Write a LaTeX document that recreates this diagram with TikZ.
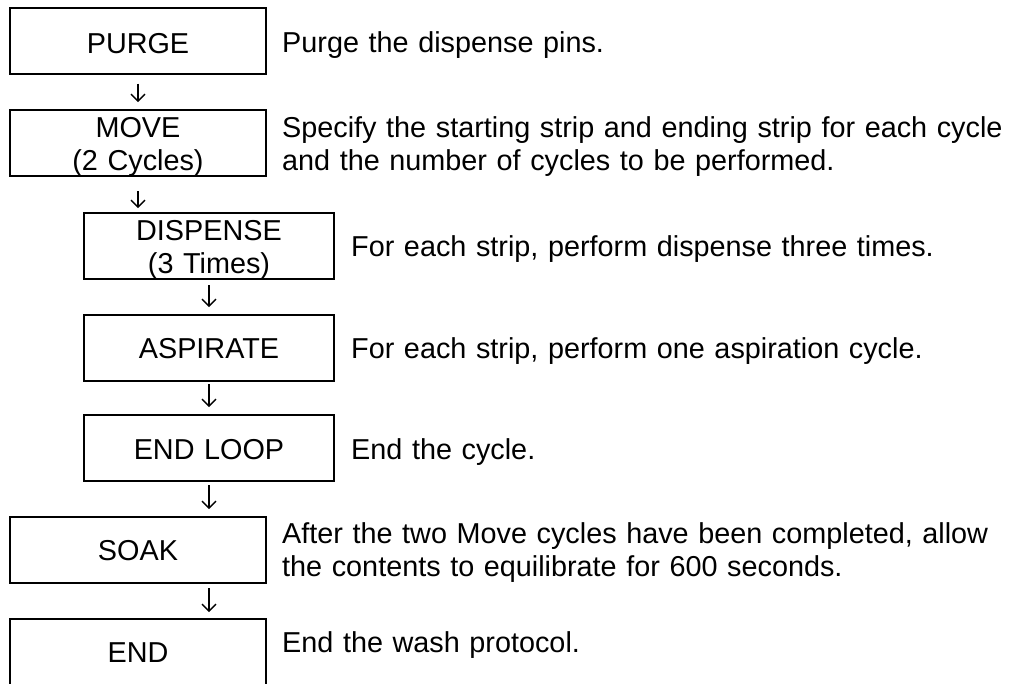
\documentclass[tikz,border=0pt]{standalone}
\usepackage{fontspec}
\setmainfont{Liberation Sans}
\usetikzlibrary{arrows.meta}
\tikzset{
  box/.style={draw=black, line width=2pt, rectangle, inner sep=0pt, minimum height=66pt},
  lbox/.style={box, minimum width=256pt},
  rbox/.style={box, minimum width=250pt},
  boxtxt/.style={anchor=base, inner sep=0pt, text width=250pt, align=center,
                 font=\fontsize{28.8}{33}\selectfont},
  desc/.style={anchor=base west, inner sep=0pt, text width=900pt, align=left,
               font=\fontsize{28.8}{33}\selectfont},
  flow/.style={line width=1.3pt, -{Straight Barb[length=7pt,width=14pt,line width=1.3pt]}}
}
\begin{document}
\begin{tikzpicture}[x=1pt,y=-1pt]
\useasboundingbox (0,0) rectangle (1011,683);
\fill[white] (0,0) rectangle (1011,683);
\clip (0,0) rectangle (1011,683);

% boxes
\node[lbox] (purge) at (138,40.5) {};
\node[lbox] (move)  at (138,143) {};
\node[rbox] (disp)  at (209,245.5) {};
\node[rbox] (asp)   at (209,347.5) {};
\node[rbox] (endl)  at (209,448) {};
\node[lbox] (soak)  at (138,550) {};
\node[lbox] (fin)   at (138,652) {};

% box labels
\node[boxtxt] (purget) at (138,53)    {PURGE};
\node[boxtxt] (movet)  at (138,137)   {MOVE\\(2 Cycles)};
\node[boxtxt] (dispt)  at (209,240.5) {DISPENSE\\(3 Times)};
\node[boxtxt] (aspt)   at (209,358)   {ASPIRATE};
\node[boxtxt] (endlt)  at (209,459.5) {END LOOP};
\node[boxtxt] (soakt)  at (138,560)   {SOAK};
\node[boxtxt] (fint)   at (138,662)   {END};

% descriptions
\node[desc] (d1) at (282,52)  {Purge the dispense pins.};
\node[desc] (d2) at (282,137) {Specify the starting strip and ending strip for each cycle\\and the number of cycles to be performed.};
\node[desc] (d3) at (351,256.5) {For each strip, perform dispense three times.};
\node[desc] (d4) at (351,358) {For each strip, perform one aspiration cycle.};
\node[desc] (d5) at (351,459) {End the cycle.};
\node[desc] (d6) at (282,543) {After the two Move cycles have been completed, allow\\the contents to equilibrate for 600 seconds.};
\node[desc] (d7) at (282,652) {End the wash protocol.};

% connectors
\draw[flow] ([yshift=-9pt]purge.south) -- ([yshift=7pt]move.north);
\draw[flow] ([yshift=-14pt]move.south) -- ([yshift=3.5pt]move.south |- disp.north);
\draw[flow] ([yshift=-5.5pt]disp.south) -- ([yshift=6.5pt]asp.north);
\draw[flow] ([yshift=-2.5pt]asp.south) -- ([yshift=7pt]endl.north);
\draw[flow] ([yshift=-3pt]endl.south) -- ([yshift=7pt]endl.south |- soak.north);
\draw[flow] ([xshift=71pt,yshift=-4pt]soak.south) -- ([xshift=71pt,yshift=6pt]fin.north);
\end{tikzpicture}
\end{document}
